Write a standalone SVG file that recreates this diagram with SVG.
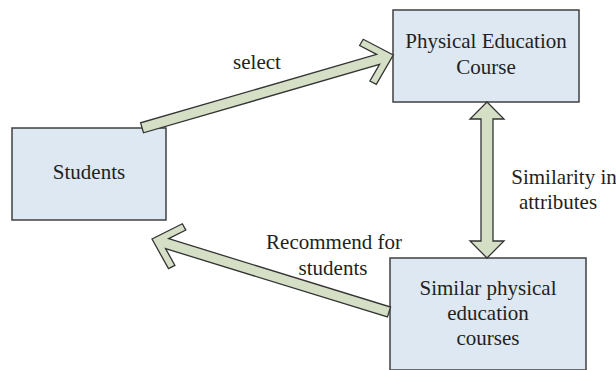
<svg xmlns="http://www.w3.org/2000/svg" width="616" height="370" viewBox="0 0 616 370">
<style>
.box{fill:#dde8f3;stroke:#404040;stroke-width:1.5}
.arr{fill:#d4dfc6;stroke:#333333;stroke-width:1.3;stroke-linejoin:miter}
text{font-family:"Liberation Serif","Times New Roman",serif;font-size:21px;fill:#231f20;text-anchor:middle}
</style>
<rect width="616" height="370" fill="#ffffff"/>
<g id="node-course">
<rect class="box" x="393" y="10" width="186" height="92"/>
<text x="486" y="48">Physical Education</text>
<text x="486" y="74">Course</text>
</g>
<g id="node-students">
<rect class="box" x="12" y="128" width="154" height="92"/>
<text x="89" y="179">Students</text>
</g>
<g id="node-similar">
<rect class="box" x="390" y="258" width="196" height="112"/>
<text x="488" y="295">Similar physical</text>
<text x="488" y="320">education</text>
<text x="488" y="345">courses</text>
</g>
<g id="connectors">
<g id="edge-select" transform="translate(393.3,55) rotate(-16.16)">
<polygon class="arr" points="0,0 -24.5,-23.5 -29.7,-18.5 -15.8,-5.2 -261.6,-5.2 -261.6,5.2 -15.8,5.2 -29.7,18.5 -24.5,23.5"/>
</g>
<g id="edge-recommend" transform="translate(152,239) rotate(197.12)">
<polygon class="arr" points="0,0 -24.5,-23.5 -29.7,-18.5 -15.8,-5.2 -248,-5.2 -248,5.2 -15.8,5.2 -29.7,18.5 -24.5,23.5"/>
</g>
<g id="edge-similarity">
<polygon class="arr" points="487,102 504,119 493,119 493,241 504,241 487,258 470,241 481,241 481,119 470,119"/>
</g>
<text x="257" y="69">select</text>
<text x="334" y="249">Recommend for</text>
<text x="333" y="275">students</text>
<text x="564" y="184">Similarity in</text>
<text x="558" y="209">attributes</text>
</g>
</svg>
